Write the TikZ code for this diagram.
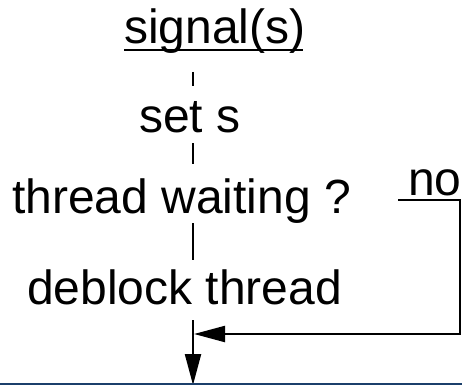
\documentclass[tikz,border=0pt]{standalone}
\usepackage{fontspec}
\setmainfont{Liberation Sans}
\usetikzlibrary{arrows.meta}
\definecolor{navy}{HTML}{1B3F6B}
\begin{document}
\begin{tikzpicture}[x=1pt,y=-1pt,
  lbl/.style={anchor=base west,inner sep=0pt,font=\fontsize{48}{52}\selectfont},
  flow/.style={line width=2.2pt},
  arr/.style={line width=2.2pt,-{Triangle[length=31pt,width=16pt]}}]
\useasboundingbox (0,0) rectangle (462,385);
\fill[white] (0,0) rectangle (462,385);
\node[lbl] (sig) at (124,44) {signal(s)};
\node[lbl] (set) at (139,132) {set s};
\node[lbl] (wait) at (12,213) {thread waiting ?};
\node[lbl] (no) at (408,195) {no};
\node[lbl] (deb) at (27,304) {deblock thread};
% underlines
\draw[line width=2.2pt] (124,50) -- (303,50);
% connectors
\coordinate (a1) at (193,72); \coordinate (a2) at (193,86);
\coordinate (b1) at (193,143); \coordinate (b2) at (193,164);
\coordinate (c1) at (193,223); \coordinate (c2) at (193,260);
\coordinate (d1) at (193,320); \coordinate (d2) at (193,385);
\coordinate (m) at (193,334);
\coordinate (n1) at (398,200); \coordinate (n2) at (460,200); \coordinate (n3) at (460,334);
\draw[flow] (a1) -- (a2);
\draw[flow] (b1) -- (b2);
\draw[flow] (c1) -- (c2);
\draw[arr] (d1) -- (d2);
\draw[arr] (n1) -- (n2) -- (n3) -- ([xshift=1pt]m);
\fill[navy] (0,383) rectangle (462,385);
\end{tikzpicture}
\end{document}
